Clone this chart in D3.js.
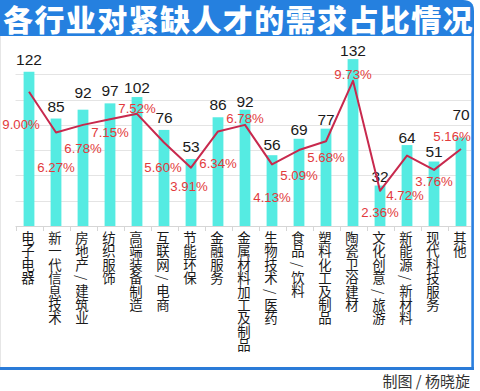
<!DOCTYPE html>
<html>
<head>
<meta charset="utf-8">
<script src="https://cdn.jsdelivr.net/npm/d3@7"></script>
<style>
  html, body { margin: 0; padding: 0; background: #fff; }
  svg { display: block; }
</style>
</head>
<body>
<svg id="chart" width="480" height="391"></svg>
<script>
// ---- data ----
const title = "各行业对紧缺人才的需求占比情况";
const credit = "制图 / 杨晓旋";
const categories = ["电子电器", "新一代信息技术", "房地产/建筑业", "纺织服饰", "高端装备制造",
  "互联网/电商", "节能环保", "金融服务", "金属材料加工及制品", "生物技术/医药", "食品/饮料",
  "塑料化工及制品", "陶瓷卫浴建材", "文化创意/旅游", "新能源/新材料", "现代科技服务", "其他"];
const counts = [122, 85, 92, 97, 102, 76, 53, 86, 92, 56, 69, 77, 132, 32, 64, 51, 70];
const shares = [9.00, 6.27, 6.78, 7.15, 7.52, 5.60, 3.91, 6.34, 6.78, 4.13, 5.09, 5.68, 9.73, 2.36, 4.72, 3.76, 5.16];
const gridTicks = [20, 40, 60, 80, 100, 120];

// ---- layout (label nudges, px) ----
const shareLabelNudge = [[-8, 33], [0, 35], [0, 23], [0, 13], [0, -6], [-1, 25], [-2, 19], [0, 32],
  [0, -7], [0, 33], [0, 25], [0, 16], [0, -7], [0, 22], [-2, 40], [0, 11], [-9, -13]];
const countLabelNudge = [-1.5, -1, -6.5, -2, 1, -1, -1, -1.5, 2.5, 0, 2, 2, 2, 2, 3, 1, -12];

const svg = d3.select("#chart");
const baseY = 226;

const x = d3.scaleBand().domain(categories).range([15.5, 474.5]).paddingInner(0.6).paddingOuter(0.3);
const y = d3.scaleLinear().domain([0, 140]).range([baseY, 49]);
const yp = d3.scaleLinear().domain([0, 12]).range([baseY, 47]);
const cx = d => x(d) + x.bandwidth() / 2;

// frame
svg.append("line").attr("x1", 0.5).attr("x2", 0.5).attr("y1", 36).attr("y2", 368)
  .attr("stroke", "#e6e6e6").attr("stroke-width", 1);
svg.append("rect").attr("x", 471.3).attr("y", 20).attr("width", 2.6).attr("height", 350).attr("fill", "#2a7fdf");
svg.append("rect").attr("x", 0).attr("y", 367).attr("width", 474).attr("height", 3).attr("fill", "#2a7bd8");
svg.append("path").attr("d", "M0,0 H463 Q474,0 474,11 V36 H0 Z").attr("fill", "#2580df");
svg.append("text").attr("x", 3).attr("y", 31)
  .attr("font-family", "'Noto Sans CJK SC', sans-serif").attr("font-weight", 900)
  .attr("font-size", 30).attr("letter-spacing", 1.4).attr("fill", "#fff").text(title);

// grid
svg.append("g").selectAll("line").data(gridTicks).join("line")
  .attr("x1", 15.5).attr("x2", 471).attr("y1", d => Math.round(y(d)) + 0.5).attr("y2", d => Math.round(y(d)) + 0.5)
  .attr("stroke", "#e4e4e4").attr("stroke-width", 1);

// bars
svg.append("g").selectAll("rect").data(categories).join("rect")
  .attr("x", d => x(d)).attr("width", x.bandwidth())
  .attr("y", (d, i) => y(counts[i])).attr("height", (d, i) => baseY - y(counts[i]))
  .attr("fill", "#55ebe2");

// x axis line + boundary ticks
svg.append("line").attr("x1", 15.5).attr("x2", 471).attr("y1", baseY + 0.5).attr("y2", baseY + 0.5)
  .attr("stroke", "#d6d6d6");
const gap = (x.step() - x.bandwidth()) / 2;
svg.append("g").selectAll("line").data(categories).join("line")
  .attr("x1", d => Math.round(x(d) - gap) + 0.5).attr("x2", d => Math.round(x(d) - gap) + 0.5)
  .attr("y1", baseY).attr("y2", baseY + 5).attr("stroke", "#d6d6d6");

// bar value labels
svg.append("g").selectAll("text").data(categories).join("text")
  .attr("x", d => cx(d)).attr("y", (d, i) => y(counts[i]) - 5.5 + countLabelNudge[i])
  .attr("text-anchor", "middle").attr("font-family", "'Liberation Sans', Arial, sans-serif")
  .attr("font-size", 15.5).attr("fill", "#1a1a1a").text((d, i) => counts[i]);

// share line
const line = d3.line().x((d, i) => cx(categories[i])).y(d => yp(d));
svg.append("path").datum(shares).attr("d", line).attr("fill", "none")
  .attr("stroke", "#c8294d").attr("stroke-width", 2).attr("stroke-linejoin", "round");

// share labels
svg.append("g").selectAll("text").data(shares).join("text")
  .attr("x", (d, i) => cx(categories[i]) + shareLabelNudge[i][0])
  .attr("y", (d, i) => yp(d) + shareLabelNudge[i][1] + 4.7)
  .attr("text-anchor", "middle").attr("font-family", "'Liberation Sans', Arial, sans-serif")
  .attr("font-size", 13.2).attr("fill", "#e23a3c").text(d => d.toFixed(2) + "%");

// category labels (vertical)
const cell = 13.4, topY = 231;
const labels = svg.append("g").selectAll("text").data(categories).join("text")
  .attr("x", d => cx(d) - 1).attr("y", topY)
  .attr("writing-mode", "vertical-rl")
  .attr("font-family", "'Noto Sans CJK SC', sans-serif").attr("font-size", 13.4).attr("fill", "#1a1a1a");
labels.each(function (d) {
  const t = d3.select(this);
  Array.from(d).forEach((ch, i) => {
    t.append("tspan").attr("y", topY + i * cell + (ch === "/" ? 4 : 0)).text(ch);
  });
});

// credit
svg.append("text").attr("x", 470).attr("y", 387).attr("text-anchor", "end")
  .attr("font-family", "'Noto Sans CJK SC', sans-serif").attr("font-size", 15).attr("fill", "#333")
  .text(credit);
</script>
</body>
</html>
